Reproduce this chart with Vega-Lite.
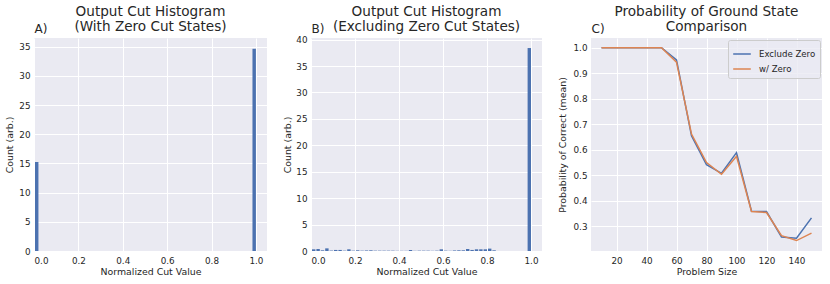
{
  "$schema": "https://vega.github.io/schema/vega-lite/v6.json",
  "background": "white",
  "padding": {"left": 4, "top": 4, "right": 3, "bottom": 2},
  "spacing": 15,
  "resolve": {"legend": {"color": "independent"}, "scale": {"color": "independent"}},
  "datasets": {
    "histA": [
      {"bin_start": 0.0, "bin_end": 0.02, "count": 15.25},
      {"bin_start": 0.98, "bin_end": 1.0, "count": 34.65}
    ],
    "histB": [
      {"bin_start": 0.00, "bin_end": 0.02, "count": 0.32},
      {"bin_start": 0.02, "bin_end": 0.04, "count": 0.38},
      {"bin_start": 0.04, "bin_end": 0.06, "count": 0.13},
      {"bin_start": 0.06, "bin_end": 0.08, "count": 0.5},
      {"bin_start": 0.08, "bin_end": 0.10, "count": 0.08},
      {"bin_start": 0.10, "bin_end": 0.12, "count": 0.2},
      {"bin_start": 0.12, "bin_end": 0.14, "count": 0.2},
      {"bin_start": 0.14, "bin_end": 0.16, "count": 0.06},
      {"bin_start": 0.16, "bin_end": 0.18, "count": 0.32},
      {"bin_start": 0.18, "bin_end": 0.20, "count": 0.06},
      {"bin_start": 0.20, "bin_end": 0.22, "count": 0.13},
      {"bin_start": 0.22, "bin_end": 0.24, "count": 0.06},
      {"bin_start": 0.24, "bin_end": 0.26, "count": 0.1},
      {"bin_start": 0.26, "bin_end": 0.28, "count": 0.13},
      {"bin_start": 0.28, "bin_end": 0.30, "count": 0.06},
      {"bin_start": 0.30, "bin_end": 0.32, "count": 0.06},
      {"bin_start": 0.32, "bin_end": 0.34, "count": 0.06},
      {"bin_start": 0.34, "bin_end": 0.36, "count": 0.06},
      {"bin_start": 0.36, "bin_end": 0.38, "count": 0.06},
      {"bin_start": 0.38, "bin_end": 0.40, "count": 0.03},
      {"bin_start": 0.40, "bin_end": 0.42, "count": 0.03},
      {"bin_start": 0.42, "bin_end": 0.44, "count": 0.03},
      {"bin_start": 0.44, "bin_end": 0.46, "count": 0.19},
      {"bin_start": 0.46, "bin_end": 0.48, "count": 0.03},
      {"bin_start": 0.48, "bin_end": 0.50, "count": 0.06},
      {"bin_start": 0.50, "bin_end": 0.52, "count": 0.06},
      {"bin_start": 0.52, "bin_end": 0.54, "count": 0.06},
      {"bin_start": 0.54, "bin_end": 0.56, "count": 0.03},
      {"bin_start": 0.56, "bin_end": 0.58, "count": 0.06},
      {"bin_start": 0.58, "bin_end": 0.60, "count": 0.32},
      {"bin_start": 0.60, "bin_end": 0.62, "count": 0.06},
      {"bin_start": 0.62, "bin_end": 0.64, "count": 0.03},
      {"bin_start": 0.64, "bin_end": 0.66, "count": 0.1},
      {"bin_start": 0.66, "bin_end": 0.68, "count": 0.13},
      {"bin_start": 0.68, "bin_end": 0.70, "count": 0.13},
      {"bin_start": 0.70, "bin_end": 0.72, "count": 0.38},
      {"bin_start": 0.72, "bin_end": 0.74, "count": 0.2},
      {"bin_start": 0.74, "bin_end": 0.76, "count": 0.32},
      {"bin_start": 0.76, "bin_end": 0.78, "count": 0.32},
      {"bin_start": 0.78, "bin_end": 0.80, "count": 0.32},
      {"bin_start": 0.80, "bin_end": 0.82, "count": 0.45},
      {"bin_start": 0.82, "bin_end": 0.84, "count": 0.13},
      {"bin_start": 0.98, "bin_end": 1.00, "count": 38.4}
    ],
    "prob": [
      {"size": 10, "series": "Exclude Zero", "p": 1.0},
      {"size": 20, "series": "Exclude Zero", "p": 1.0},
      {"size": 30, "series": "Exclude Zero", "p": 1.0},
      {"size": 40, "series": "Exclude Zero", "p": 1.0},
      {"size": 50, "series": "Exclude Zero", "p": 1.0},
      {"size": 60, "series": "Exclude Zero", "p": 0.952},
      {"size": 70, "series": "Exclude Zero", "p": 0.654},
      {"size": 80, "series": "Exclude Zero", "p": 0.541},
      {"size": 90, "series": "Exclude Zero", "p": 0.507},
      {"size": 100, "series": "Exclude Zero", "p": 0.588},
      {"size": 110, "series": "Exclude Zero", "p": 0.358},
      {"size": 120, "series": "Exclude Zero", "p": 0.357},
      {"size": 130, "series": "Exclude Zero", "p": 0.257},
      {"size": 140, "series": "Exclude Zero", "p": 0.252},
      {"size": 150, "series": "Exclude Zero", "p": 0.332},
      {"size": 10, "series": "w/ Zero", "p": 1.0},
      {"size": 20, "series": "w/ Zero", "p": 1.0},
      {"size": 30, "series": "w/ Zero", "p": 1.0},
      {"size": 40, "series": "w/ Zero", "p": 1.0},
      {"size": 50, "series": "w/ Zero", "p": 1.0},
      {"size": 60, "series": "w/ Zero", "p": 0.943},
      {"size": 70, "series": "w/ Zero", "p": 0.661},
      {"size": 80, "series": "w/ Zero", "p": 0.549},
      {"size": 90, "series": "w/ Zero", "p": 0.503},
      {"size": 100, "series": "w/ Zero", "p": 0.574},
      {"size": 110, "series": "w/ Zero", "p": 0.357},
      {"size": 120, "series": "w/ Zero", "p": 0.353},
      {"size": 130, "series": "w/ Zero", "p": 0.262},
      {"size": 140, "series": "w/ Zero", "p": 0.243},
      {"size": 150, "series": "w/ Zero", "p": 0.272}
    ]
  },
  "hconcat": [
    {
      "title": {"text": ["Output Cut Histogram", "(With Zero Cut States)"]},
      "width": 233,
      "height": 213,
      "data": {"name": "histA"},
      "resolve": {"axis": {"x": "independent"}},
      "layer": [
        {
          "mark": {"type": "bar", "color": "#4C72B0"},
          "encoding": {
            "x": {"field": "bin_start", "type": "quantitative", "bin": "binned", "scale": {"domain": [0, 1.05], "nice": false, "zero": false},
                  "axis": {"values": [0, 0.2, 0.4, 0.6, 0.8, 1.0], "format": ".1f", "title": "Normalized Cut Value"}},
            "x2": {"field": "bin_end"},
            "y": {"field": "count", "type": "quantitative", "scale": {"domain": [0, 36.5], "nice": false},
                  "axis": {"values": [0, 5, 10, 15, 20, 25, 30, 35], "title": "Count (arb.)"}}
          }
        },
        {
          "mark": {"type": "rule", "opacity": 0},
          "encoding": {
            "x": {"field": "bin_start", "type": "quantitative",
                  "axis": {"orient": "top", "title": "A)", "labels": false, "grid": false}}
          }
        }
      ]
    },
    {
      "title": {"text": ["Output Cut Histogram", "(Excluding Zero Cut States)"]},
      "width": 231,
      "height": 213,
      "data": {"name": "histB"},
      "resolve": {"axis": {"x": "independent"}},
      "layer": [
        {
          "mark": {"type": "bar", "color": "#4C72B0"},
          "encoding": {
            "x": {"field": "bin_start", "type": "quantitative", "bin": "binned", "scale": {"domain": [0, 1.05], "nice": false, "zero": false},
                  "axis": {"values": [0, 0.2, 0.4, 0.6, 0.8, 1.0], "format": ".1f", "title": "Normalized Cut Value"}},
            "x2": {"field": "bin_end"},
            "y": {"field": "count", "type": "quantitative", "scale": {"domain": [0, 40.3], "nice": false},
                  "axis": {"values": [0, 5, 10, 15, 20, 25, 30, 35, 40], "title": "Count (arb.)", "titlePadding": 3}}
          }
        },
        {
          "mark": {"type": "rule", "opacity": 0},
          "encoding": {
            "x": {"field": "bin_start", "type": "quantitative",
                  "axis": {"orient": "top", "title": "B)", "labels": false, "grid": false}}
          }
        }
      ]
    },
    {
      "title": {"text": ["Probability of Ground State", "Comparison"]},
      "width": 231,
      "height": 213,
      "data": {"name": "prob"},
      "resolve": {"axis": {"x": "independent"}},
      "layer": [
        {
          "mark": {"type": "line", "strokeWidth": 1.5},
          "encoding": {
            "x": {"field": "size", "type": "quantitative", "scale": {"domain": [3, 157], "nice": false, "zero": false},
                  "axis": {"values": [20, 40, 60, 80, 100, 120, 140], "title": "Problem Size"}},
            "y": {"field": "p", "type": "quantitative", "scale": {"domain": [0.202, 1.038], "nice": false, "zero": false},
                  "axis": {"values": [0.3, 0.4, 0.5, 0.6, 0.7, 0.8, 0.9, 1.0], "format": ".1f", "title": "Probability of Correct (mean)", "titlePadding": 6}},
            "color": {"field": "series", "type": "nominal",
                      "scale": {"domain": ["Exclude Zero", "w/ Zero"], "range": ["#4C72B0", "#DD8452"]},
                      "legend": {"title": null, "orient": "top-right", "offset": 2, "symbolType": "stroke", "symbolSize": 310,
                                 "symbolStrokeWidth": 1.5, "labelFontSize": 8.6, "labelColor": "#262626", "labelOffset": 7,
                                 "fillColor": "rgba(234,234,242,0.8)", "strokeColor": "#CCCCCC", "cornerRadius": 2, "padding": 4, "rowPadding": 0}}
          }
        },
        {
          "mark": {"type": "rule", "opacity": 0},
          "encoding": {
            "x": {"field": "size", "type": "quantitative",
                  "axis": {"orient": "top", "title": "C)", "labels": false, "grid": false}}
          }
        }
      ]
    }
  ],
  "config": {
    "font": "DejaVu Sans",
    "view": {"fill": "#EAEAF2", "stroke": null},
    "axis": {
      "domain": false, "ticks": false, "tickSize": 0,
      "grid": true, "gridColor": "#FFFFFF", "gridWidth": 1,
      "labelFont": "DejaVu Sans", "labelFontSize": 8.8, "labelColor": "#262626", "labelPadding": 4,
      "titleFont": "DejaVu Sans", "titleFontSize": 9.4, "titleFontWeight": "normal", "titleColor": "#262626", "titlePadding": 4
    },
    "axisX": {"labelPadding": 5, "titlePadding": 3},
    "axisTop": {"titleAnchor": "start", "titleFontSize": 12, "titlePadding": 3, "labels": false, "grid": false},
    "title": {"font": "DejaVu Sans", "fontSize": 13.6, "fontWeight": "normal", "color": "#262626", "lineHeight": 15.5,
              "anchor": "middle", "frame": "group", "offset": -12},
    "legend": {"labelFont": "DejaVu Sans"}
  }
}
